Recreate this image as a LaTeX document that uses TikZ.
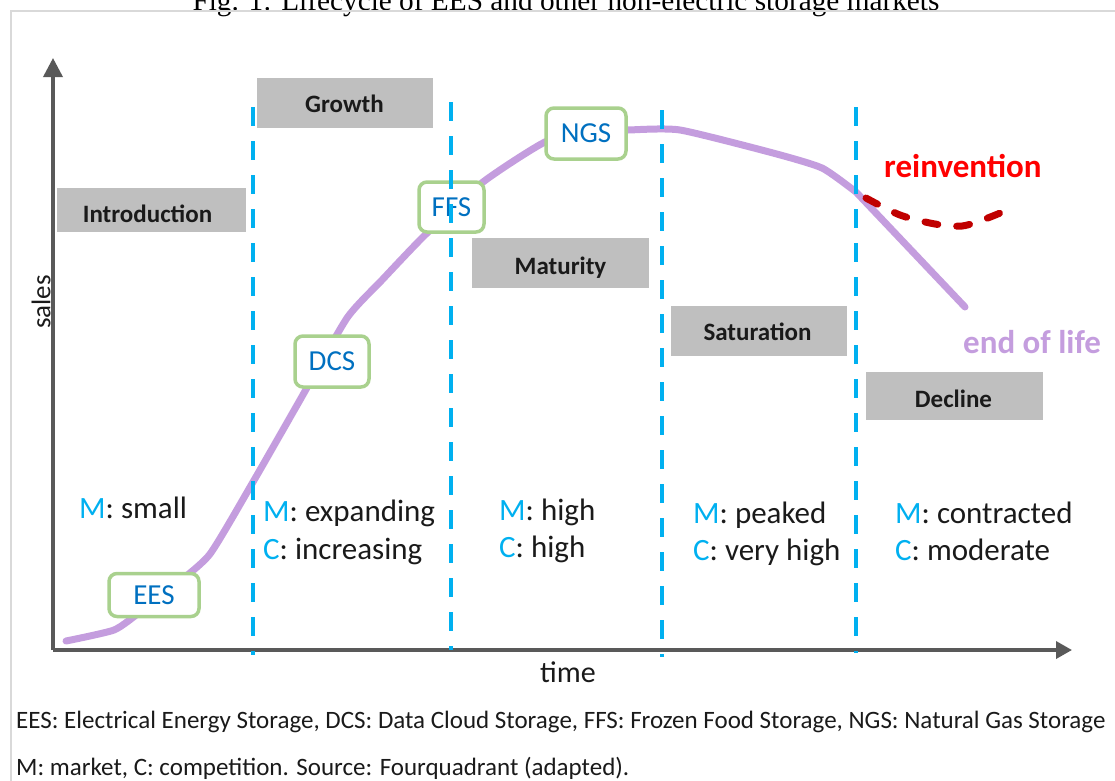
\documentclass[tikz,border=0pt]{standalone}
\usepackage{fontspec}
\setmainfont{Carlito}
\newfontfamily\titleserif{Liberation Serif}
\usetikzlibrary{arrows.meta}
\definecolor{graybox}{HTML}{BFBFBF}
\definecolor{phaseblue}{HTML}{00B0F0}
\definecolor{curvepurple}{HTML}{C49DDE}
\definecolor{boxgreen}{HTML}{A9D18E}
\definecolor{storblue}{HTML}{0070C0}
\definecolor{reinvred}{HTML}{FF0000}
\definecolor{reinvdash}{HTML}{C00000}
\definecolor{axisgray}{HTML}{595959}
\definecolor{framegray}{HTML}{D9D9D9}
\definecolor{txtdark}{HTML}{1A1A1A}
\newcommand\mc[1]{\textcolor{phaseblue}{#1}}
\tikzset{
  phasebox/.style={fill=graybox, draw=none, inner sep=0pt},
  phaselbl/.style={anchor=base, inner sep=0pt, text=txtdark, font=\fontsize{25}{30}\selectfont\bfseries},
  storbox/.style={draw=boxgreen, line width=3.5pt, rounded corners=8pt, fill=white, inner sep=0pt,
     text=storblue, font=\fontsize{29}{34}\selectfont},
  mctext/.style={anchor=base west, inner sep=0pt, text=txtdark, font=\fontsize{31}{36}\selectfont},
  phaseline/.style={draw=phaseblue, line width=3.5pt, dash pattern=on 19pt off 15pt},
  axisline/.style={draw=axisgray, line width=3.5pt},
  foot/.style={anchor=base west, inner sep=0pt, text=txtdark, font=\fontsize{25}{30}\selectfont},
}
\begin{document}
\begin{tikzpicture}[x=1pt,y=-1pt]
\useasboundingbox (0,0) rectangle (1115,780);
\clip (0,0) rectangle (1115,780);
% title (cut at top)
\node[anchor=base, inner sep=0pt, font=\titleserif\fontsize{29.3}{34}\selectfont] (title) at (566,10) {Fig. 1: Lifecycle of EES and other non-electric storage markets};
% frame
\draw[framegray, line width=1.5pt] (11,790) -- (11,11) -- (1125,11);
% axes
\coordinate (origin) at (53,650);
\coordinate (ytip) at (53,58);
\coordinate (xtip) at (1072,650);
\draw[axisline, -{Triangle[length=19pt,width=19pt]}] (origin) -- (ytip);
\draw[axisline, -{Triangle[length=16pt,width=17pt]}] (origin) -- (xtip);
\node[rotate=90, inner sep=0pt, text=txtdark, font=\fontsize{27}{32}\selectfont] (sales) at (41,302) {sales};
\node[anchor=base, inner sep=0pt, text=txtdark, font=\fontsize{30}{36}\selectfont] (time) at (568,682) {time};
% lifecycle curve
\draw[curvepurple, line width=7pt, line cap=round, line join=round]
  plot[smooth, tension=0.35] coordinates {(66,641) (114,630) (140,612) (175,585) (210,554) (253,482) (300,400) (347,318) (382,280) (425,235) (483,182) (545,142) (590,132) (628,130) (680,130) (773,153) (822,168) (856,192)}
  -- (965,307);
% reinvention dashed
\draw[reinvdash, line width=7pt, line cap=round, dash pattern=on 13pt off 19pt]
  plot[smooth, tension=0.5] coordinates {(866,198) (900,215) (935,224) (962,226) (985,219) (1005,211)};
% phase boxes
\node[phasebox, minimum width=189pt, minimum height=44pt] (intro) at (151.5,210) {};
\node[phasebox, minimum width=176pt, minimum height=50pt] (growth) at (345,103) {};
\node[phasebox, minimum width=177pt, minimum height=50pt] (maturity) at (560.5,263) {};
\node[phasebox, minimum width=176pt, minimum height=50pt] (saturation) at (759,331) {};
\node[phasebox, minimum width=177pt, minimum height=48pt] (decline) at (954.5,396) {};
\node[phaselbl] (introl) at (147.5,222.7) {Introduction};
\node[phaselbl] (growthl) at (344.5,112) {Growth};
\node[phaselbl] (maturityl) at (560.5,274) {Maturity};
\node[phaselbl] (saturationl) at (757.5,340) {Saturation};
\node[phaselbl] (declinel) at (953.5,407) {Decline};
% storage boxes
\node[storbox, minimum width=90pt, minimum height=43pt] (ees) at (154,595) {EES};
\node[storbox, minimum width=74pt, minimum height=51pt] (dcs) at (332,361.5) {DCS};
\node[storbox, minimum width=65pt, minimum height=50pt] (ffs) at (451.5,207) {FFS};
\node[storbox, minimum width=80pt, minimum height=51pt] (ngs) at (586,133.5) {NGS};
% phase separators
\coordinate (s1t) at (253,107); \coordinate (s1b) at (253,655);
\coordinate (s2t) at (451,102); \coordinate (s2b) at (451,650);
\coordinate (s3t) at (662,110); \coordinate (s3b) at (662,657);
\coordinate (s4t) at (856,107); \coordinate (s4b) at (856,653);
\draw[phaseline] (s1t) -- (s1b);
\draw[phaseline] (s2t) -- (s2b);
\draw[phaseline] (s3t) -- (s3b);
\draw[phaseline] (s4t) -- (s4b);
% outcome labels
\node[anchor=base west, inner sep=0pt, text=reinvred, font=\fontsize{33}{38}\selectfont\bfseries] (reinv) at (884,177) {reinvention};
\node[anchor=base west, inner sep=0pt, text=curvepurple, font=\fontsize{33}{38}\selectfont\bfseries] (eol) at (963,353) {end of life};
% market / competition
\node[mctext] (m1) at (79,518) {\mc{M}: small};
\node[mctext] (m2) at (263,521) {\mc{M}: expanding};
\node[mctext] (c2) at (263,559) {\mc{C}: increasing};
\node[mctext] (m3) at (499,520) {\mc{M}: high};
\node[mctext] (c3) at (499,557) {\mc{C}: high};
\node[mctext] (m4) at (693,523) {\mc{M}: peaked};
\node[mctext] (c4) at (693,560) {\mc{C}: very high};
\node[mctext] (m5) at (895,523) {\mc{M}: contracted};
\node[mctext] (c5) at (895,560) {\mc{C}: moderate};
% footnotes
\node[foot] (fn1) at (16,728) {EES: Electrical Energy Storage, DCS: Data Cloud Storage, FFS: Frozen Food Storage, NGS: Natural Gas Storage};
\node[foot] (fn2) at (16,775) {M: market, C: competition. Source: Fourquadrant (adapted).};
\end{tikzpicture}
\end{document}
